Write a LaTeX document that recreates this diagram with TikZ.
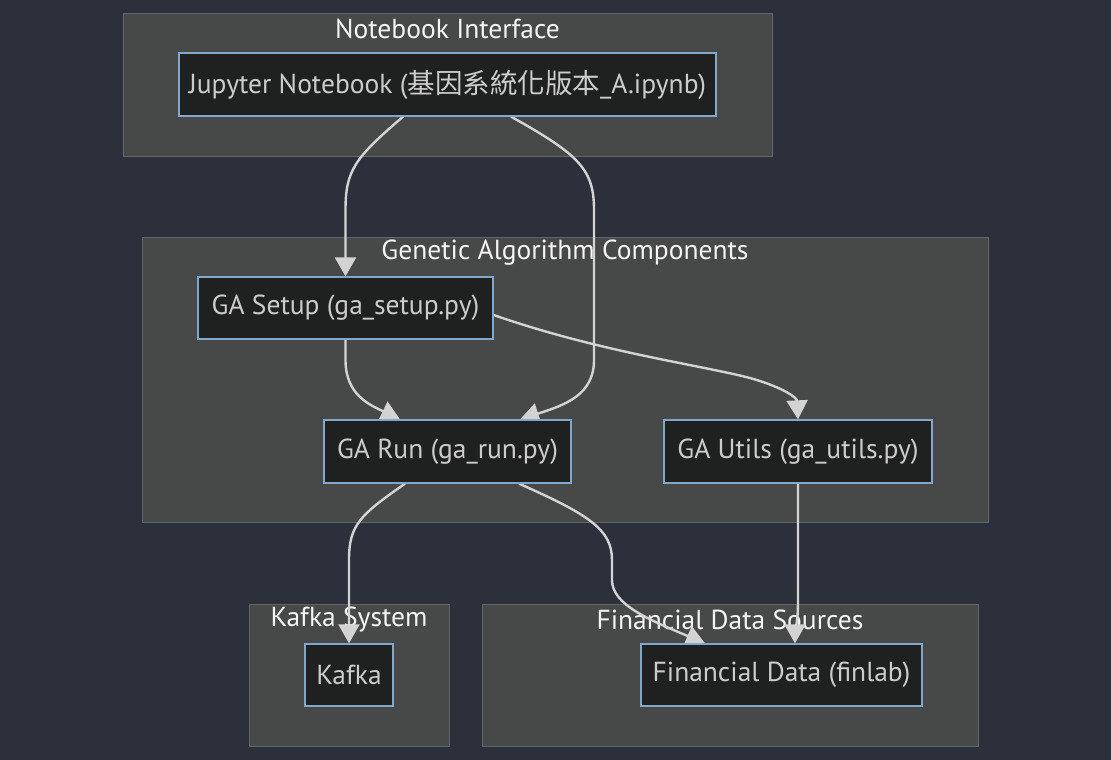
\documentclass[tikz,border=0pt]{standalone}
\usepackage{fontspec}
\setmainfont{PT Sans}
\newfontfamily\cjk{Noto Sans CJK TC}
\usetikzlibrary{arrows.meta}
\definecolor{bg}{HTML}{2B303B}
\definecolor{clfill}{HTML}{474848}
\definecolor{cldraw}{HTML}{62666A}
\definecolor{ndfill}{HTML}{1F2020}
\definecolor{nddraw}{HTML}{7FA8CC}
\definecolor{ndtext}{HTML}{CCCCCC}
\definecolor{edge}{HTML}{D3D3D3}
\definecolor{cltext}{HTML}{F5F5F5}
\tikzset{
  cluster/.style={draw=cldraw, fill=clfill, line width=1.2pt, inner sep=0pt, anchor=north west},
  cltitle/.style={text=cltext, inner sep=0pt, font=\fontsize{27.5}{32}\selectfont},
  box/.style={draw=nddraw, fill=ndfill, line width=1.3pt, inner sep=0pt, text=ndtext, font=\fontsize{27.5}{32}\selectfont},
  link/.style={draw=edge, line width=2.4pt, -{Triangle[length=19pt,width=21pt]}}
}
\begin{document}
\begin{tikzpicture}[x=1pt,y=-1pt]
\fill[bg] (0,0) rectangle (1111,760);
\useasboundingbox (0,0) rectangle (1111,760);
% clusters
\node[cluster, minimum width=649pt, minimum height=143pt] (cnb) at (123,13) {};
\node[cluster, minimum width=846pt, minimum height=285pt] (cga) at (142,237) {};
\node[cluster, minimum width=200pt, minimum height=142pt] (cka) at (249,604) {};
\node[cluster, minimum width=496pt, minimum height=142pt] (cfi) at (482,604) {};
\node[cltitle] (tnb) at (447.5,29) {Notebook Interface};
\node[cltitle] (tga) at (565,253) {Genetic Algorithm Components};
\node[cltitle] (tka) at (349,620) {Kafka System};
\node[cltitle] (tfi) at (730,620) {Financial Data Sources};
% nodes (positions for edges)
\node[box, minimum width=537pt, minimum height=63pt] (j) at (447.5,84.5) {Jupyter Notebook ({\cjk 基因系統化版本}\_A.ipynb)};
\node[box, minimum width=295pt, minimum height=62pt] (setup) at (345.5,308) {GA Setup (ga\_setup.py)};
\node[box, minimum width=247pt, minimum height=63pt] (run) at (447.5,451.5) {GA Run (ga\_run.py)};
\node[box, minimum width=268pt, minimum height=63pt] (utils) at (798,451.5) {GA Utils (ga\_utils.py)};
\node[box, minimum width=88pt, minimum height=62pt] (kafka) at (349,675) {Kafka};
\node[box, minimum width=281pt, minimum height=62pt] (fin) at (781.5,675) {Financial Data (finlab)};
% edges
\draw[link] ([xshift=-44.5pt]j.south) .. controls (355,158) and (345.5,170) .. (345.5,210) -- (setup.north);
\draw[link] ([xshift=63.5pt]j.south) .. controls (580,155) and (594,170) .. (594,210) -- (594,360) .. controls (594,395) and (565,405) .. ([xshift=72.5pt]run.north);
\draw[link] (setup.south) -- (345.5,360) .. controls (345.5,395) and (370,405) .. ([xshift=-47.5pt]run.north);
\draw[link] ([yshift=-7pt]setup.east) .. controls (600,352) and (700,365) .. (750,378) .. controls (785,388) and (797,398) .. (utils.north);
\draw[link] ([xshift=-42.5pt]run.south) .. controls (360,515) and (349,525) .. (349,560) -- (kafka.north);
\draw[link] ([xshift=71.5pt]run.south) .. controls (590,515) and (612,530) .. (612,560) -- (612,580) .. controls (612,605) and (650,620) .. ([xshift=-76.5pt]fin.north);
\draw[link] (utils.south) -- (798,600) .. controls (798,625) and (795,630) .. ([xshift=13.5pt]fin.north);
% redraw nodes on top of edges
\node[box, minimum width=537pt, minimum height=63pt] at (j) {Jupyter Notebook ({\cjk 基因系統化版本}\_A.ipynb)};
\node[box, minimum width=295pt, minimum height=62pt] at (setup) {GA Setup (ga\_setup.py)};
\node[box, minimum width=247pt, minimum height=63pt] at (run) {GA Run (ga\_run.py)};
\node[box, minimum width=268pt, minimum height=63pt] at (utils) {GA Utils (ga\_utils.py)};
\node[box, minimum width=88pt, minimum height=62pt] at (kafka) {Kafka};
\node[box, minimum width=281pt, minimum height=62pt] at (fin) {Financial Data (finlab)};
\end{tikzpicture}
\end{document}
